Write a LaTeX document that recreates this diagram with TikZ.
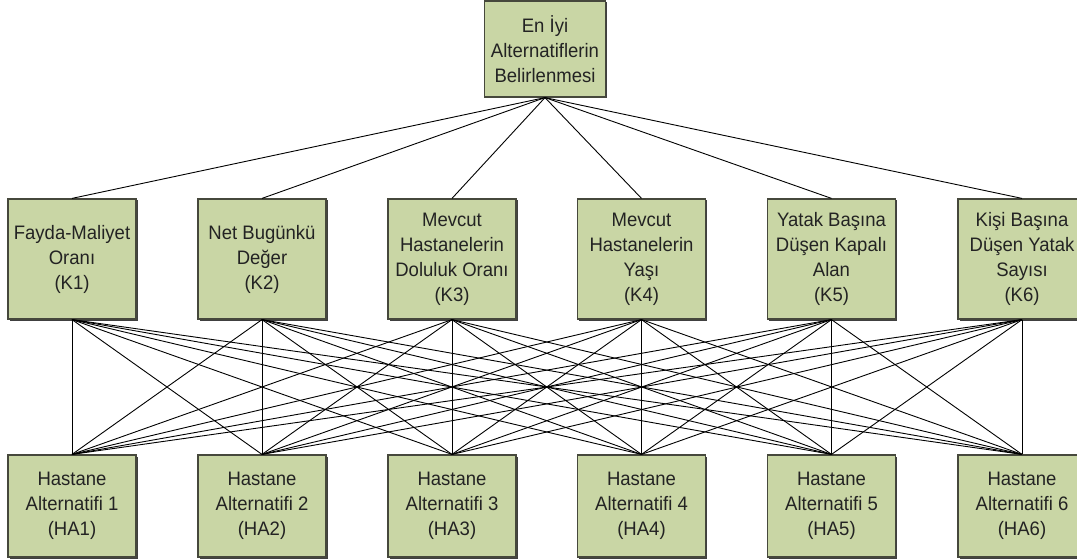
\documentclass[tikz,border=0pt]{standalone}
\usepackage{fontspec}
\setmainfont{Liberation Sans}
\newfontfamily\boxfont[FakeStretch=0.95]{Liberation Sans}
\usetikzlibrary{shadows}

\definecolor{boxfill}{RGB}{201,214,165}
\definecolor{boxline}{RGB}{70,72,60}
\definecolor{boxtext}{RGB}{35,35,35}

\tikzset{
    box/.style={draw=boxline, line width=1.2pt, fill=boxfill, text=boxtext, align=center,
        inner sep=0pt, minimum width=128pt, font=\boxfont\fontsize{19.5}{25}\selectfont,
        drop shadow={shadow xshift=1.5pt, shadow yshift=-1.5pt, fill=black!75, opacity=1}},
    crit/.style={box, minimum height=120pt},
    alt/.style={box, minimum height=102pt},
    link/.style={draw=black, line width=0.9pt}
}

\begin{document}
\begin{tikzpicture}[x=1pt, y=-1pt]

    \useasboundingbox (0,0) rectangle (1077,559);

    % Draw the goal
    \node[box, minimum width=121pt, minimum height=96pt] (goal) at (545,49) {En İyi\\Alternatiflerin\\Belirlenmesi};

    % Draw the criteria
    \node[crit] (k1) at (72,259) {Fayda-Maliyet\\Oranı\\(K1)};
    \node[crit] (k2) at (262,259) {Net Bugünkü\\Değer\\(K2)};
    \node[crit] (k3) at (452,259) {Mevcut\\Hastanelerin\\Doluluk Oranı\\(K3)};
    \node[crit] (k4) at (641.5,259) {Mevcut\\Hastanelerin\\Yaşı\\(K4)};
    \node[crit] (k5) at (831.5,259) {Yatak Başına\\Düşen Kapalı\\Alan\\(K5)};
    \node[crit] (k6) at (1022,259) {Kişi Başına\\Düşen Yatak\\Sayısı\\(K6)};

    % Draw the alternatives
    \node[alt] (ha1) at (72,506) {Hastane\\Alternatifi 1\\(HA1)};
    \node[alt] (ha2) at (262,506) {Hastane\\Alternatifi 2\\(HA2)};
    \node[alt] (ha3) at (452,506) {Hastane\\Alternatifi 3\\(HA3)};
    \node[alt] (ha4) at (641.5,506) {Hastane\\Alternatifi 4\\(HA4)};
    \node[alt] (ha5) at (831.5,506) {Hastane\\Alternatifi 5\\(HA5)};
    \node[alt] (ha6) at (1022,506) {Hastane\\Alternatifi 6\\(HA6)};

    % Connect every level to the next one
    \foreach \i in {1,...,6} {
        \draw[link] (goal.south) -- (k\i.north);
        \foreach \j in {1,...,6}
            \draw[link] (k\i.south) -- (ha\j.north);
    }

\end{tikzpicture}
\end{document}
